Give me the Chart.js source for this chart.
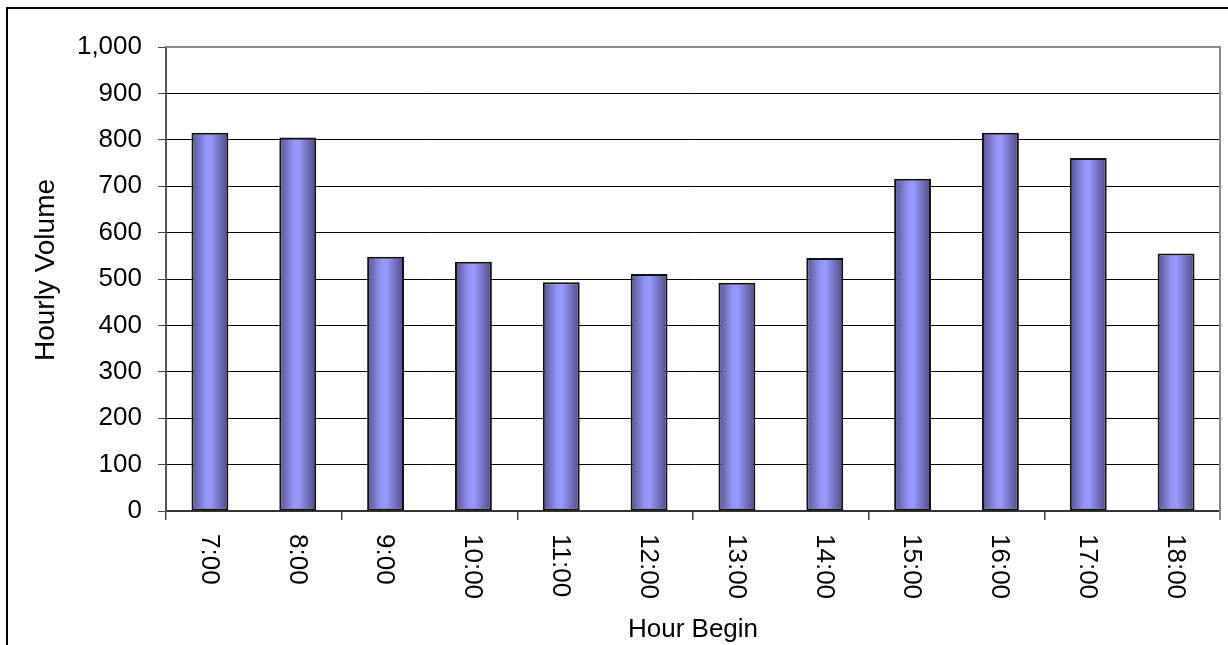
<!DOCTYPE html>
<html>
<head>
<meta charset="utf-8">
<script src="https://cdn.jsdelivr.net/npm/chart.js@4/dist/chart.umd.min.js"></script>
<style>
  html, body { margin: 0; padding: 0; background: #ffffff; }
  #wrap { width: 1228px; height: 645px; }
</style>
</head>
<body>
<div id="wrap"><canvas id="chart" width="1228" height="645"></canvas></div>
<script>
// Hourly counts by start hour
const hours = ['7:00', '8:00', '9:00', '10:00', '11:00', '12:00', '13:00', '14:00', '15:00', '16:00', '17:00', '18:00'];
const hourlyVolume = [815, 805, 548, 537, 493, 511, 492, 545, 716, 815, 761, 555];
const yTicks = [0, 100, 200, 300, 400, 500, 600, 700, 800, 900, 1000];

const FONT = '"Liberation Sans", Arial, sans-serif';
const BAR_PCT = 0.42;

// Cylinder-like shading across each bar
function barGradient(context) {
  const chart = context.chart;
  const xs = chart.scales.x;
  if (!chart.chartArea || !xs || context.dataIndex === undefined) return '#9999ff';
  const cx = xs.getPixelForValue(context.dataIndex);
  const half = (xs.width / hours.length) * BAR_PCT / 2;
  if (!isFinite(cx) || !isFinite(half)) return '#9999ff';
  const g = chart.ctx.createLinearGradient(cx - half, 0, cx + half, 0);
  g.addColorStop(0, '#53538e');
  g.addColorStop(0.38, '#9494f8');
  g.addColorStop(0.52, '#9999ff');
  g.addColorStop(1, '#4b4b80');
  return g;
}

// Frame, plot border, rotated hour labels and axis titles
const decorations = {
  id: 'decorations',
  beforeDatasetsDraw(chart) {
    const { ctx, chartArea: a } = chart;
    ctx.save();
    ctx.strokeStyle = '#8a8a8a';
    ctx.lineWidth = 2;
    ctx.beginPath();
    ctx.moveTo(a.left, a.top);
    ctx.lineTo(a.right, a.top);
    ctx.lineTo(a.right, a.bottom + 9);
    ctx.stroke();
    ctx.restore();
  },
  afterDraw(chart) {
    const { ctx, chartArea: a, scales } = chart;
    ctx.save();
    // outer frame
    ctx.strokeStyle = '#000000';
    ctx.lineWidth = 2;
    ctx.beginPath();
    ctx.moveTo(7, 660);
    ctx.lineTo(7, 8);
    ctx.lineTo(1240, 8);
    ctx.stroke();

    ctx.fillStyle = '#000000';
    ctx.font = '26px ' + FONT;
    // category labels, reading downward
    hours.forEach((label, i) => {
      const x = scales.x.getPixelForValue(i);
      ctx.save();
      ctx.translate(x, a.bottom + 23);
      ctx.rotate(Math.PI / 2);
      ctx.textAlign = 'left';
      ctx.textBaseline = 'middle';
      ctx.fillText(label, 0, 1);
      ctx.restore();
    });
    // x title
    ctx.textAlign = 'center';
    ctx.textBaseline = 'alphabetic';
    ctx.fillText('Hour Begin', (a.left + a.right) / 2, 637);
    // y title
    ctx.font = '28px ' + FONT;
    ctx.save();
    ctx.translate(46, 270);
    ctx.rotate(-Math.PI / 2);
    ctx.textAlign = 'center';
    ctx.textBaseline = 'middle';
    ctx.fillText('Hourly Volume', 0, 0);
    ctx.restore();
    ctx.restore();
  }
};

new Chart(document.getElementById('chart'), {
  type: 'bar',
  data: {
    labels: hours,
    datasets: [{
      label: 'Hourly Volume',
      data: hourlyVolume,
      backgroundColor: barGradient,
      borderColor: '#111111',
      borderWidth: 2,
      borderSkipped: false,
      barPercentage: BAR_PCT,
      categoryPercentage: 1.0
    }]
  },
  options: {
    responsive: false,
    devicePixelRatio: 1,
    animation: false,
    layout: { padding: { top: 47, right: 8, left: 0, bottom: 0 } },
    plugins: {
      legend: { display: false },
      tooltip: { enabled: false },
      title: { display: false }
    },
    scales: {
      x: {
        type: 'category',
        offset: true,
        grid: {
          offset: true,
          drawOnChartArea: false,
          drawTicks: true,
          tickLength: 9,
          lineWidth: 1.5,
          color: (c) => (c.index === undefined || c.index % 2 === 0) ? '#444444' : 'rgba(0,0,0,0)'
        },
        border: { display: true, color: '#333333', width: 2 },
        ticks: { display: false },
        afterFit(scale) { scale.height = 134; }
      },
      y: {
        min: 0,
        max: 1000,
        afterBuildTicks(scale) { scale.ticks = yTicks.map(v => ({ value: v })); },
        grid: {
          color: (c) => (c.tick && c.tick.value === 1000) ? '#8a8a8a' : '#000000',
          lineWidth: 1,
          tickLength: 8,
          tickColor: '#444444',
          drawTicks: true
        },
        border: { display: true, color: '#555555', width: 2 },
        ticks: {
          padding: 16,
          color: '#000000',
          font: { family: FONT, size: 26 },
          callback: (v) => v.toLocaleString('en-US')
        },
        afterFit(scale) { scale.width = 166; }
      }
    }
  },
  plugins: [decorations]
});
</script>
</body>
</html>
